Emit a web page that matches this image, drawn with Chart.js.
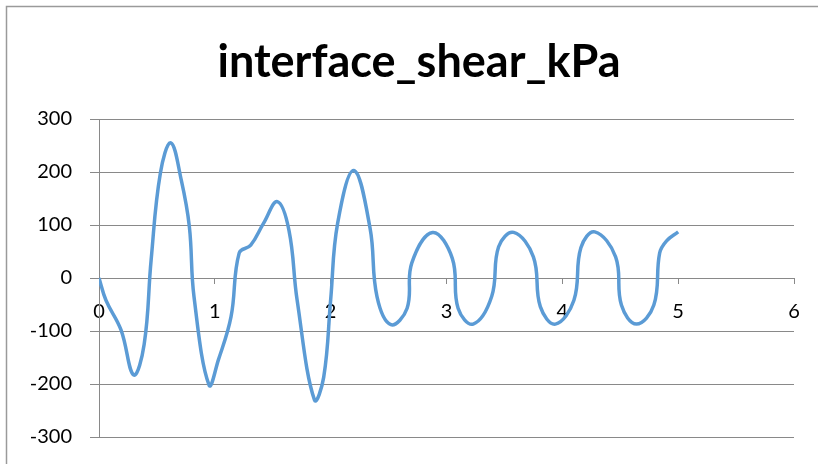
<!DOCTYPE html>
<html>
<head>
<meta charset="utf-8">
<script src="https://cdn.jsdelivr.net/npm/chart.js@4/dist/chart.umd.min.js"></script>
<style>
  body { margin: 0; background: #fff; overflow: hidden; }
</style>
</head>
<body>
<canvas id="chart" width="818" height="464"></canvas>
<script>
// series
const timeVals = [0, 0.06, 0.19, 0.30, 0.39, 0.45, 0.53, 0.62, 0.71, 0.78, 0.82, 0.95, 1.03, 1.14, 1.21, 1.31, 1.42, 1.54, 1.64, 1.71, 1.86, 1.94, 2.00, 2.06, 2.20, 2.34, 2.40, 2.52, 2.66, 2.70, 2.88, 3.05, 3.10, 3.23, 3.39, 3.45, 3.58, 3.75, 3.81, 3.94, 4.10, 4.16, 4.28, 4.46, 4.51, 4.64, 4.79, 4.84, 4.90, 5.00];
const shearVals = [0, -42, -98, -183, -125, 34, 198, 255, 185, 97, -35, -202, -155, -73, 47, 62, 103, 144, 90, -41, -230, -187, -41, 103, 203, 94, -35, -88, -57, 28, 86, 37, -57, -87, -35, 59, 86, 40, -54, -87, -42, 57, 87, 40, -51, -87, -51, 47, 70, 87];
const yTicks = [-300, -200, -100, 0, 100, 200, 300];
const xTicks = [0, 1, 2, 3, 4, 5, 6];

const points = timeVals.map((t, i) => ({ x: t, y: shearVals[i] }));
const axisGray = "#898989";
const fontFam = "Lato, 'Liberation Sans', sans-serif";

// chart-area frame (top + left edge only, the rest is cut off) and title nudge
const framePlugin = {
    id: "frame",
    afterLayout(chart) {
        const t = chart.titleBlock;
        if (t) t.left += 44;
    },
    beforeDraw(chart) {
        const ctx = chart.ctx;
        ctx.save();
        ctx.strokeStyle = "#9a9a9a";
        ctx.lineWidth = 1.5;
        ctx.beginPath();
        ctx.moveTo(6.5, chart.height);
        ctx.lineTo(6.5, 6.5);
        ctx.lineTo(chart.width, 6.5);
        ctx.stroke();
        ctx.restore();
    }
};

new Chart(document.getElementById("chart"), {
    type: "scatter",
    data: {
        datasets: [{
            label: "interface_shear_kPa",
            data: points,
            showLine: true,
            borderColor: "#5B9BD5",
            borderWidth: 3.5,
            pointRadius: 0,
            tension: 0.4
        }]
    },
    options: {
        responsive: false,
        animation: false,
        layout: { padding: { left: 0, right: 24, top: 0, bottom: 27 } },
        plugins: {
            legend: { display: false },
            tooltip: { enabled: false },
            title: {
                display: true,
                text: "interface_shear_kPa",
                color: "#000",
                font: { family: fontFam, size: 45, weight: "bold", lineHeight: 1.2 },
                padding: { top: 35, bottom: 30 }
            }
        },
        scales: {
            x: {
                type: "linear",
                position: { y: 0 },
                min: xTicks[0],
                max: xTicks[xTicks.length - 1],
                afterBuildTicks: s => { s.ticks = xTicks.map(v => ({ value: v })); },
                border: { color: axisGray, width: 1 },
                grid: { drawOnChartArea: false, drawTicks: true, tickLength: 5, color: axisGray },
                ticks: { color: "#000", font: { family: fontFam, size: 20 }, padding: 17, maxRotation: 0 }
            },
            y: {
                min: yTicks[0],
                max: yTicks[yTicks.length - 1],
                afterBuildTicks: s => { s.ticks = yTicks.map(v => ({ value: v })); },
                afterFit: s => { s.width = 99; s.paddingTop = 10; s.paddingBottom = 10; },
                border: { color: axisGray, width: 1 },
                grid: { color: axisGray, lineWidth: 1, drawTicks: true, tickLength: 9 },
                ticks: { color: "#000", font: { family: fontFam, size: 20 }, padding: 18 }
            }
        }
    },
    plugins: [framePlugin]
});
</script>
</body>
</html>
